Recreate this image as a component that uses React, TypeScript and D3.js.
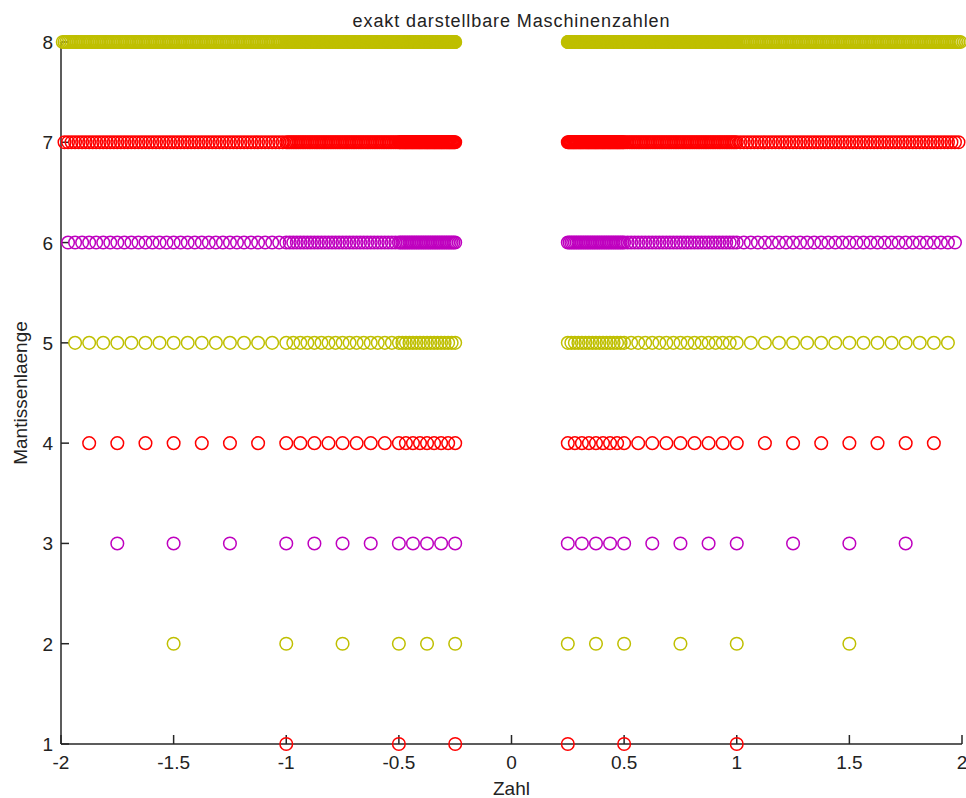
import React from 'react';
import * as d3 from 'd3';

// mantissa lengths on the y axis, numerators of the fractional part for each length
const mantissaLengths = [1, 2, 3, 4, 5, 6, 7, 8];
const denominators = [1, 2, 4, 8, 16, 32, 64, 128];
const steps1 = [0];
const steps2 = [0, 1];
const steps3 = [0, 1, 2, 3];
const steps4 = [0, 1, 2, 3, 4, 5, 6, 7];
const steps5 = [0, 1, 2, 3, 4, 5, 6, 7, 8, 9, 10, 11, 12, 13, 14, 15];
const steps6 = [
  0, 1, 2, 3, 4, 5, 6, 7, 8, 9, 10, 11, 12, 13, 14, 15, 16, 17, 18, 19, 20, 21, 22, 23, 24, 25, 26, 27, 28,
  29, 30, 31,
];
const steps7 = [
  0, 1, 2, 3, 4, 5, 6, 7, 8, 9, 10, 11, 12, 13, 14, 15, 16, 17, 18, 19, 20, 21, 22, 23, 24, 25, 26, 27, 28,
  29, 30, 31, 32, 33, 34, 35, 36, 37, 38, 39, 40, 41, 42, 43, 44, 45, 46, 47, 48, 49, 50, 51, 52, 53, 54,
  55, 56, 57, 58, 59, 60, 61, 62, 63,
];
const steps8 = [
  0, 1, 2, 3, 4, 5, 6, 7, 8, 9, 10, 11, 12, 13, 14, 15, 16, 17, 18, 19, 20, 21, 22, 23, 24, 25, 26, 27, 28,
  29, 30, 31, 32, 33, 34, 35, 36, 37, 38, 39, 40, 41, 42, 43, 44, 45, 46, 47, 48, 49, 50, 51, 52, 53, 54,
  55, 56, 57, 58, 59, 60, 61, 62, 63, 64, 65, 66, 67, 68, 69, 70, 71, 72, 73, 74, 75, 76, 77, 78, 79, 80,
  81, 82, 83, 84, 85, 86, 87, 88, 89, 90, 91, 92, 93, 94, 95, 96, 97, 98, 99, 100, 101, 102, 103, 104,
  105, 106, 107, 108, 109, 110, 111, 112, 113, 114, 115, 116, 117, 118, 119, 120, 121, 122, 123, 124,
  125, 126, 127,
];
const stepsByRow = [steps1, steps2, steps3, steps4, steps5, steps6, steps7, steps8];
// exponents -2, -1, 0 and both signs
const exponentScales = [0.25, 0.5, 1];
const signs = [-1, 1];
const rowColors = ['#ff0000', '#bfbf00', '#bf00bf'];

const xTicks = [-2, -1.5, -1, -0.5, 0, 0.5, 1, 1.5, 2];
const yTicks = [1, 2, 3, 4, 5, 6, 7, 8];

const width = 966;
const height = 798;
const margin = { top: 42, right: 4, bottom: 54, left: 61 };
const font = "'Liberation Sans', Arial, sans-serif";

export default function App() {
  const x = d3.scaleLinear().domain([-2, 2]).range([margin.left, width - margin.right]);
  const y = d3.scaleLinear().domain([1, 8]).range([height - margin.bottom, margin.top]);
  const axisColor = '#262626';

  const points: { v: number; m: number; i: number }[] = [];
  mantissaLengths.forEach((m, i) => {
    signs.forEach((s) =>
      exponentScales.forEach((e) =>
        stepsByRow[i].forEach((k) => points.push({ v: s * e * (1 + k / denominators[i]), m, i }))
      )
    );
  });

  const y0 = y(1);
  const x0 = x(-2);

  return (
    <svg
      width={width}
      height={height}
      style={{ position: 'absolute', left: 0, top: 0, background: '#fff' }}
      fontFamily={font}
    >
      <line x1={x0} x2={x(2)} y1={y0} y2={y0} stroke={axisColor} strokeWidth={1.5} />
      <line x1={x0} x2={x0} y1={y0} y2={y(8)} stroke={axisColor} strokeWidth={1.5} />
      {xTicks.map((t) => (
        <g key={'x' + t}>
          <line x1={x(t)} x2={x(t)} y1={y0} y2={y0 - 9} stroke={axisColor} strokeWidth={1.5} />
          <text x={x(t)} y={y0 + 25} textAnchor="middle" fontSize={19} fill="#222">
            {t}
          </text>
        </g>
      ))}
      {yTicks.map((t) => (
        <g key={'y' + t}>
          <line x1={x0} x2={x0 + 8} y1={y(t)} y2={y(t)} stroke={axisColor} strokeWidth={1.5} />
          <text x={x0 - 8} y={y(t) + 7} textAnchor="end" fontSize={19} fill="#222">
            {t}
          </text>
        </g>
      ))}
      {points.map((p, j) => (
        <circle
          key={j}
          cx={x(p.v)}
          cy={y(p.m)}
          r={6.3}
          fill="none"
          stroke={rowColors[p.i % 3]}
          strokeWidth={1.5}
        />
      ))}
      <text
        x={(x(-2) + x(2)) / 2}
        y={27}
        textAnchor="middle"
        fontSize={18}
        letterSpacing={0.9}
        fill="#222"
      >
        exakt darstellbare Maschinenzahlen
      </text>
      <text x={(x(-2) + x(2)) / 2} y={795} textAnchor="middle" fontSize={19} fill="#222">
        Zahl
      </text>
      <text
        transform={`translate(27,${(y(1) + y(8)) / 2}) rotate(-90)`}
        textAnchor="middle"
        fontSize={19}
        fill="#222"
      >
        Mantissenlaenge
      </text>
    </svg>
  );
}
